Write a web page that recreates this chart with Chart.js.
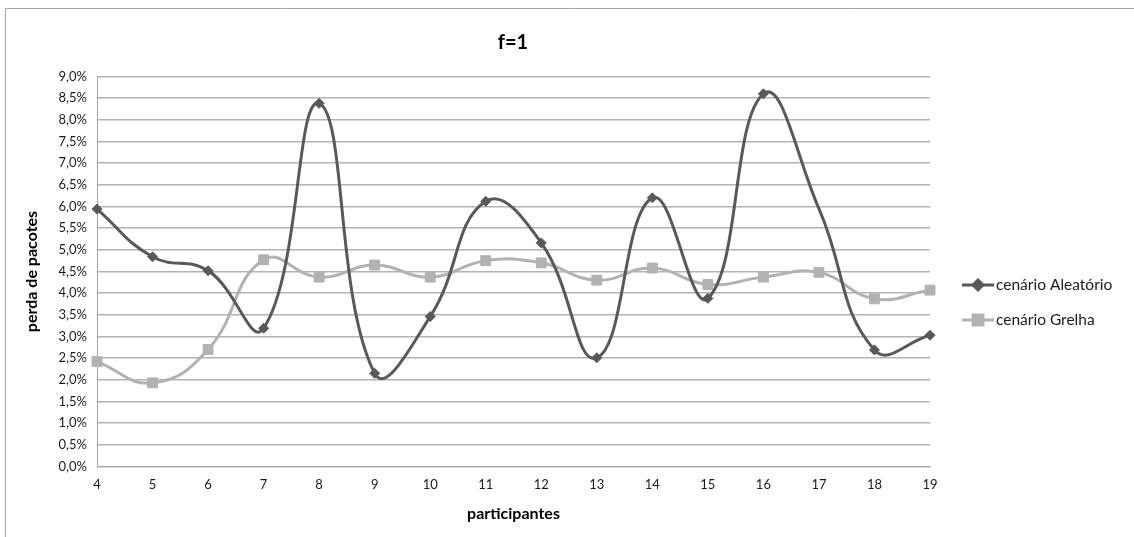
<!DOCTYPE html>
<html>
<head>
<meta charset="utf-8">
<script src="https://cdn.jsdelivr.net/npm/chart.js@4/dist/chart.umd.min.js"></script>
<style>
html,body{margin:0;padding:0;background:#fff;}
#wrap{position:absolute;left:0;top:0;width:1134px;height:537px;}
</style>
</head>
<body>
<div id="wrap"><canvas id="c" width="1134" height="537"></canvas></div>
<script>
const categories = ['4','5','6','7','8','9','10','11','12','13','14','15','16','17','18','19'];
const aleatorio = [5.94, 4.84, 4.52, 3.19, 8.38, 2.15, 3.46, 6.12, 5.16, 2.51, 6.20, 3.88, 8.60, 5.95, 2.69, 3.03];
const grelha = [2.42, 1.93, 2.70, 4.77, 4.37, 4.65, 4.37, 4.75, 4.70, 4.30, 4.58, 4.20, 4.37, 4.48, 3.87, 4.07];
const seriesNames = ['cenário Aleatório', 'cenário Grelha'];
const yTicks = [0, 0.5, 1, 1.5, 2, 2.5, 3, 3.5, 4, 4.5, 5, 5.5, 6, 6.5, 7, 7.5, 8, 8.5, 9];

const FONT = 'Lato, "Open Sans", "DejaVu Sans", sans-serif';
const darkCol = '#595959';
const lightCol = '#b2b2b2';

const frame = {
  id: 'frame',
  beforeDraw(chart) {
    const ctx = chart.ctx;
    ctx.save();
    ctx.fillStyle = '#fff';
    ctx.fillRect(0, 0, chart.width, chart.height);
    ctx.strokeStyle = '#a6a6a6';
    ctx.lineWidth = 1;
    ctx.beginPath();
    ctx.moveTo(5.5, chart.height);
    ctx.lineTo(5.5, 8.5);
    ctx.lineTo(chart.width, 8.5);
    ctx.stroke();
    ctx.restore();
  }
};

const legendPlugin = {
  id: 'customLegend',
  afterDraw(chart) {
    const ctx = chart.ctx;
    ctx.save();
    const ys = [285, 320];
    chart.data.datasets.forEach((ds, i) => {
      const y = ys[i];
      ctx.strokeStyle = ds.borderColor;
      ctx.lineWidth = 3;
      ctx.beginPath();
      ctx.moveTo(962, y);
      ctx.lineTo(994, y);
      ctx.stroke();
      ctx.fillStyle = ds.borderColor;
      ctx.strokeStyle = ds.borderColor;
      Chart.helpers.drawPoint(ctx, {pointStyle: ds.pointStyle, radius: i === 0 ? 5 : 7, rotation: 0, borderWidth: 1}, 978, y);
      ctx.fillStyle = '#1a1a1a';
      ctx.font = '15.5px ' + FONT;
      ctx.textBaseline = 'middle';
      ctx.textAlign = 'left';
      ctx.fillText(ds.label, 996, y);
    });
    ctx.restore();
  }
};

new Chart(document.getElementById('c'), {
  type: 'line',
  data: {
    labels: categories,
    datasets: [
      {
        label: seriesNames[0],
        data: aleatorio,
        borderColor: darkCol,
        backgroundColor: darkCol,
        borderWidth: 3,
        pointStyle: 'rectRot',
        pointRadius: aleatorio.map((v, i) => categories[i] === '17' ? 0 : 5),
        pointBackgroundColor: darkCol,
        pointBorderColor: darkCol,
        pointBorderWidth: 1,
        tension: 0.45,
        fill: false
      },
      {
        label: seriesNames[1],
        data: grelha,
        borderColor: lightCol,
        backgroundColor: lightCol,
        borderWidth: 3,
        pointStyle: 'rect',
        pointRadius: 7,
        pointBackgroundColor: lightCol,
        pointBorderColor: lightCol,
        pointBorderWidth: 1,
        tension: 0.45,
        fill: false
      }
    ]
  },
  options: {
    responsive: false,
    animation: false,
    devicePixelRatio: 1,
    layout: { padding: { left: 6, right: 114, top: 0, bottom: 0 } },
    plugins: {
      legend: { display: false },
      tooltip: { enabled: false },
      title: {
        display: true,
        text: 'f=1',
        color: '#000',
        font: { family: FONT, size: 20, weight: 'bold' },
        padding: { top: 31, bottom: 21.5 }
      }
    },
    scales: {
      x: {
        offset: false,
        grid: { display: false, drawTicks: false },
        border: { display: true, color: '#a6a6a6', width: 1 },
        ticks: { color: '#1a1a1a', font: { family: FONT, size: 13 }, padding: 11, maxRotation: 0, autoSkip: false },
        title: { display: true, text: 'participantes', color: '#000', font: { family: FONT, size: 16, weight: 'bold' }, padding: { top: 0, bottom: 14 } },
        afterFit(s) { s.height = 70.5; }
      },
      y: {
        min: 0,
        max: 9,
        afterBuildTicks(s) { s.ticks = yTicks.map(v => ({ value: v })); },
        grid: { color: '#b3b3b3', lineWidth: 1.5, drawTicks: false },
        border: { display: true, color: '#a6a6a6', width: 1 },
        ticks: {
          color: '#1a1a1a',
          font: { family: FONT, size: 13 },
          padding: 10,
          callback: v => v.toFixed(1).replace('.', ',') + '%'
        },
        title: { display: true, text: 'perda de pacotes', color: '#000', font: { family: FONT, size: 16, weight: 'bold' }, padding: { top: 16, bottom: 0 } },
        afterFit(s) { s.width = 91; }
      },
      yR: {
        position: 'right',
        display: true,
        grid: { display: false, drawTicks: false },
        border: { display: false },
        ticks: { display: false },
        afterFit(s) { s.width = 90; }
      }
    }
  },
  plugins: [frame, legendPlugin]
});
</script>
</body>
</html>
